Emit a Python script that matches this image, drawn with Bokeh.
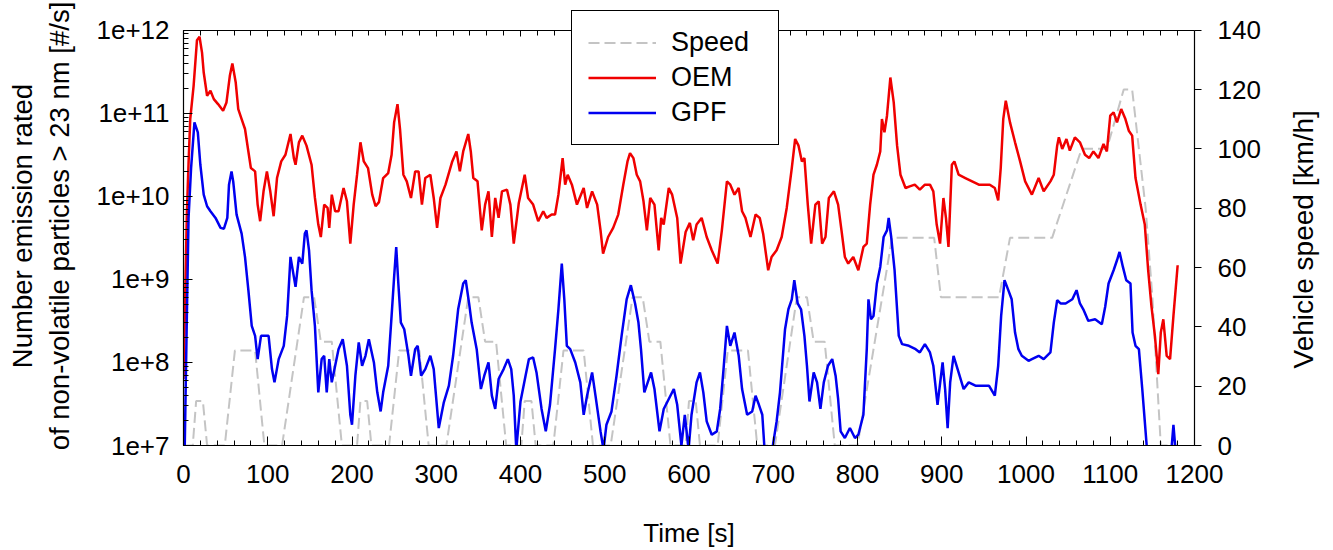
import math
from bokeh.plotting import figure
from bokeh.layouts import row
from bokeh.models import (Range1d, LinearAxis, LinearScale, CustomJSTickFormatter, SingleIntervalTicker,
                          Legend, LegendItem)
from bokeh.core.properties import value
from bokeh.embed import file_html
from bokeh.resources import INLINE

# ---------------- data ----------------
# Vehicle speed, NEDC breakpoints [s], [km/h]
speed_t = [0, 11, 15, 23, 28, 49, 61, 85, 96, 117, 143, 155, 163, 176, 188,
           195, 206, 210, 218, 223, 244, 256, 280, 291, 312, 338, 350, 358, 371, 383,
           390, 401, 405, 413, 418, 439, 451, 475, 486, 507, 533, 545, 553, 566, 578,
           585, 596, 600, 608, 613, 634, 646, 670, 681, 702, 728, 740, 748, 761, 773,
           780, 800, 841, 891, 899, 968, 981, 1031, 1066, 1096, 1116, 1126, 1142, 1150, 1160, 1180]
speed_v = [0, 0, 15, 15, 0, 0, 32, 32, 0, 0, 50, 50, 35, 35, 0,
           0, 0, 15, 15, 0, 0, 32, 32, 0, 0, 50, 50, 35, 35, 0,
           0, 0, 15, 15, 0, 0, 32, 32, 0, 0, 50, 50, 35, 35, 0,
           0, 0, 15, 15, 0, 0, 32, 32, 0, 0, 50, 50, 35, 35, 0,
           0, 0, 70, 70, 50, 50, 70, 70, 100, 100, 120, 120, 80, 50, 0, 0]

# OEM emission rate, log10 of [#/s]
oem_t = [0, 2, 4, 6, 8, 12, 16, 19, 22, 24, 28, 32, 36, 41, 47, 51, 55, 58, 62, 65,
         69, 73, 77, 80, 85, 88, 91, 95, 99, 103, 107, 111, 116, 121, 127, 131, 133, 137, 141, 146,
         152, 156, 160, 163, 167, 171, 173, 176, 180, 184, 190, 194, 198, 202, 206, 210, 214, 219, 224, 228,
         232, 237, 243, 247, 250, 254, 257, 261, 265, 270, 275, 279, 283, 287, 293, 297, 301, 305, 311, 319,
         324, 328, 332, 338, 341, 344, 349, 354, 358, 362, 366, 370, 374, 378, 384, 388, 392, 398, 405, 409,
         415, 421, 427, 431, 437, 441, 445, 450, 453, 456, 461, 467, 475, 479, 485, 491, 495, 498, 504, 510,
         516, 522, 527, 530, 534, 538, 542, 546, 550, 554, 559, 564, 567, 570, 576, 580, 586, 590, 596, 601,
         605, 609, 615, 621, 627, 634, 639, 645, 649, 654, 659, 663, 667, 673, 679, 684, 688, 694, 698, 704,
         710, 716, 722, 726, 730, 734, 737, 741, 745, 750, 754, 758, 762, 766, 772, 777, 781, 785, 789, 795,
         801, 807, 811, 815, 819, 823, 827, 829, 832, 835, 839, 843, 847, 851, 857, 862, 868, 874, 880, 886,
         890, 894, 898, 902, 905, 908, 912, 915, 920, 928, 936, 944, 951, 957, 963, 967, 970, 973, 976, 981,
         987, 993, 999, 1007, 1015, 1021, 1029, 1033, 1037, 1039, 1043, 1048, 1052, 1058, 1064, 1070, 1075, 1080, 1086, 1092,
         1096, 1100, 1104, 1108, 1113, 1118, 1122, 1126, 1130, 1136, 1141, 1145, 1149, 1153, 1157, 1160, 1163, 1167, 1171, 1175,
         1180]
oem_log = [7.8, 8.8, 9.8, 10.4, 10.93, 11.33, 11.88, 11.92, 11.73, 11.49, 11.21, 11.27, 11.17, 11.11, 11.03, 11.13, 11.45, 11.60, 11.37, 11.05,
           10.93, 10.81, 10.54, 10.34, 10.30, 9.90, 9.70, 10.06, 10.30, 10.06, 9.76, 10.22, 10.42, 10.50, 10.75, 10.46, 10.38, 10.65, 10.73, 10.61,
           10.38, 9.98, 9.66, 9.51, 9.90, 9.86, 9.62, 10.02, 9.82, 9.82, 10.10, 9.94, 9.43, 9.90, 10.26, 10.65, 10.42, 10.34, 10.02, 9.88,
           9.93, 10.22, 10.28, 10.50, 10.89, 11.11, 10.81, 10.26, 10.18, 9.98, 10.30, 10.30, 9.90, 10.22, 10.26, 9.98, 9.62, 9.98, 10.14, 10.42,
           10.54, 10.30, 10.54, 10.75, 10.54, 10.22, 10.18, 9.59, 9.90, 10.06, 9.51, 9.98, 9.74, 10.06, 10.08, 9.90, 9.43, 9.92, 10.26, 9.98,
           9.90, 9.70, 9.82, 9.74, 9.78, 9.78, 10.02, 10.46, 10.14, 10.26, 10.14, 9.90, 10.10, 9.86, 10.06, 9.90, 9.59, 9.31, 9.51, 9.62,
           9.78, 10.14, 10.42, 10.52, 10.46, 10.26, 10.18, 9.94, 9.59, 9.98, 9.90, 9.35, 9.74, 9.66, 10.10, 10.02, 9.74, 9.19, 9.57, 9.68,
           9.47, 9.66, 9.74, 9.51, 9.35, 9.19, 9.59, 10.18, 10.14, 10.02, 10.10, 9.82, 9.74, 9.51, 9.78, 9.74, 9.55, 9.11, 9.27, 9.35,
           9.51, 9.86, 10.34, 10.69, 10.61, 10.42, 10.46, 9.90, 9.43, 9.90, 9.94, 9.43, 9.51, 9.98, 10.06, 9.90, 9.59, 9.27, 9.19, 9.27,
           9.11, 9.39, 9.43, 9.90, 10.26, 10.38, 10.54, 10.93, 10.77, 10.97, 11.43, 11.13, 10.61, 10.26, 10.10, 10.12, 10.14, 10.08, 10.14, 10.14,
           10.06, 9.66, 9.43, 9.98, 9.74, 9.39, 10.38, 10.42, 10.26, 10.22, 10.18, 10.14, 10.14, 10.14, 10.10, 9.95, 10.34, 10.93, 11.15, 10.89,
           10.65, 10.42, 10.18, 10.02, 10.22, 10.06, 10.18, 10.26, 10.61, 10.71, 10.57, 10.69, 10.55, 10.71, 10.65, 10.50, 10.46, 10.54, 10.46, 10.63,
           10.54, 10.97, 11.01, 10.89, 11.05, 10.93, 10.79, 10.73, 10.22, 9.90, 9.66, 9.11, 8.67, 8.32, 7.86, 8.36, 8.52, 8.08, 8.04, 8.56,
           9.17]

# GPF emission rate, log10 of [#/s] (values below 7 fall off the axis)
gpf_t = [0, 1.5, 4, 6, 9, 13, 17, 20, 24, 28, 32, 38, 44, 48, 52, 54, 57, 59, 63, 69,
         73, 77, 81, 85, 88, 92, 97, 101, 105, 108, 113, 119, 123, 127, 129, 133, 137, 141, 144, 146,
         149, 152, 156, 160, 164, 167, 170, 173, 176, 180, 184, 189, 194, 198, 200, 204, 208, 212, 216, 220,
         226, 230, 234, 237, 243, 247, 250, 252.5, 255, 258, 262, 267, 270, 275, 278, 282, 287, 293, 297, 303,
         309, 315, 320, 326, 332, 335, 339, 342, 348, 353, 357, 362, 366, 370, 374, 380, 385, 389, 392, 395,
         400, 406, 410, 415, 419, 425, 430, 435, 441, 445, 449, 452, 455, 459, 465, 471, 475, 479, 485, 489,
         495, 498.5, 502, 508, 514, 520, 526, 531, 536, 540, 543, 547, 551, 555, 559, 565, 570, 576, 582, 586,
         591, 595, 599.5, 603, 609, 613, 617, 621, 627, 633, 637, 641, 645, 649, 654, 659, 663, 669, 675, 679,
         683, 687, 690, 698, 704, 708, 714, 718, 722, 725, 729, 733, 737, 740, 743, 748, 752, 756, 760, 765,
         770, 774, 777, 780, 785, 791, 797, 801, 807, 811, 813, 816, 819, 823, 827, 831, 835, 837, 840, 844,
         849, 853, 861, 869, 874, 880, 886, 890, 895, 901, 904, 907, 910, 914, 920, 926, 932, 940, 948, 956,
         963, 967, 970.5, 974.5, 979, 983, 987, 991, 995, 1003, 1007, 1015, 1021, 1029, 1033, 1037, 1041, 1047, 1055, 1060,
         1064, 1068, 1074, 1082, 1090, 1094, 1098, 1104, 1108, 1111, 1115, 1119, 1124, 1126.5, 1130, 1134, 1138, 1141, 1144, 1150,
         1170, 1173, 1175, 1177, 1179]
gpf_log = [6.5, 7.0, 8.56, 9.74, 10.34, 10.89, 10.77, 10.38, 10.02, 9.88, 9.82, 9.74, 9.62, 9.61, 9.74, 10.14, 10.30, 10.18, 9.78, 9.55,
           9.27, 8.87, 8.44, 8.32, 8.04, 8.32, 8.32, 8.32, 7.92, 7.76, 8.04, 8.20, 8.56, 9.27, 9.15, 8.91, 9.27, 9.19, 9.55, 9.59,
           9.35, 8.87, 8.44, 7.64, 8.04, 8.08, 7.64, 8.04, 7.76, 7.96, 8.16, 8.28, 7.96, 7.37, 7.25, 7.84, 8.24, 7.96, 8.08, 8.28,
           8.00, 7.64, 7.41, 7.64, 7.96, 8.56, 9.03, 9.39, 8.95, 8.48, 8.40, 8.08, 7.84, 8.16, 8.20, 7.84, 7.92, 8.08, 7.92, 7.21,
           7.52, 7.72, 8.08, 8.64, 8.95, 8.99, 8.71, 8.48, 8.16, 7.68, 7.84, 8.00, 7.60, 7.44, 7.80, 7.92, 8.04, 7.92, 7.60, 6.95,
           7.53, 7.84, 8.04, 8.06, 7.88, 7.44, 7.17, 7.49, 8.16, 8.64, 9.19, 8.76, 8.20, 8.16, 8.00, 7.76, 7.37, 7.60, 7.88, 7.60,
           7.17, 6.95, 7.25, 7.41, 7.84, 8.32, 8.76, 8.93, 8.71, 8.48, 8.16, 7.64, 7.76, 7.88, 7.68, 7.17, 7.44, 7.56, 7.68, 7.49,
           7.0, 7.37, 6.95, 7.37, 7.76, 7.88, 7.64, 7.29, 7.13, 7.17, 7.44, 7.92, 8.44, 8.20, 8.36, 8.08, 7.68, 7.37, 7.41, 7.60,
           7.49, 7.37, 6.9, 6.9, 7.29, 7.64, 8.40, 8.64, 8.76, 8.99, 8.71, 8.64, 8.32, 7.96, 7.53, 7.88, 7.76, 7.44, 7.76, 7.96,
           8.04, 7.84, 7.56, 7.17, 7.09, 7.21, 7.09, 7.13, 7.37, 8.16, 8.76, 8.52, 8.56, 8.95, 9.15, 9.51, 9.59, 9.74, 9.51, 9.11,
           8.32, 8.22, 8.20, 8.16, 8.12, 8.22, 8.12, 7.96, 7.49, 8.00, 7.68, 7.21, 7.76, 8.08, 7.88, 7.68, 7.76, 7.72, 7.72, 7.72,
           7.60, 7.96, 8.56, 8.99, 8.87, 8.76, 8.36, 8.16, 8.08, 8.02, 8.04, 8.08, 8.04, 8.12, 8.48, 8.75, 8.71, 8.71, 8.76, 8.87,
           8.71, 8.64, 8.50, 8.52, 8.46, 8.67, 8.95, 9.11, 9.23, 9.33, 9.15, 8.99, 8.95, 8.36, 8.20, 8.16, 7.68, 7.29, 6.9, 6.0,
           6.0, 7.0, 7.25, 7.0, 6.0]

x_ticks_interval = 100
speed_ticks_interval = 20
emis_bounds = (1e7, 1e12)
speed_bounds = (0, 140)
speed_title = "Vehicle speed [km/h]"

# ---------------- figure ----------------
FONT = "Liberation Sans"
FS = "26px"
FS_TITLE = "27.5px"

oem_v = [10 ** v for v in oem_log]
gpf_v = [10 ** v for v in gpf_log]

# The frame reaches 24 px above the top axis line, so that the legend box
# can stick out above the top axis line as in the reference.
EXTRA_PX = 24
AX_PX = 421  # pixel height between 1e7 and 1e12
FRAME_TOP = 30 - EXTRA_PX
FRAME_BOTTOM = 451
y_top = 10 ** (12 + EXTRA_PX * 5 / AX_PX)
speed_top = 140 + EXTRA_PX * 140 / AX_PX

MAIN_W = 1280
p = figure(width=MAIN_W, height=550, x_range=Range1d(0, 1200), y_range=Range1d(1e7, y_top),
           y_axis_type="log", output_backend="svg", toolbar_location=None,
           min_border_left=183, min_border_right=MAIN_W - 1194, min_border_top=FRAME_TOP,
           min_border_bottom=550 - FRAME_BOTTOM)
p.extra_y_ranges = {"speed": Range1d(0, speed_top)}
p.extra_y_scales = {"speed": LinearScale()}
p.grid.visible = False
p.outline_line_color = None
p.background_fill_color = "white"
p.border_fill_color = "white"

r_speed = p.line(speed_t, speed_v, y_range_name="speed", line_color="#c4c4c4",
                 line_width=2, line_dash="11 5")
r_oem = p.line(oem_t, oem_v, line_color="#f00000", line_width=2.5)
r_gpf = p.line(gpf_t, gpf_v, line_color="#0000f0", line_width=2.5)

def style_axis(ax):
    ax.axis_line_color = "black"
    ax.axis_line_width = 1.2
    ax.major_tick_line_color = "black"
    ax.minor_tick_line_color = "black"
    ax.major_label_text_font = FONT
    ax.major_label_text_font_size = FS
    ax.major_label_text_color = "black"
    ax.axis_label_text_font = FONT
    ax.axis_label_text_font_size = FS
    ax.axis_label_text_font_style = "normal"
    ax.axis_label_text_color = "black"

# bottom x axis
xa = p.xaxis[0]
xa.ticker = SingleIntervalTicker(interval=x_ticks_interval, num_minor_ticks=5)
xa.axis_label = "Time [s]"
style_axis(xa)
xa.major_tick_in = 9
xa.major_tick_out = 0
xa.minor_tick_in = 5
xa.minor_tick_out = 0
xa.major_label_standoff = 19
xa.axis_label_standoff = 32

# top mirror axis, placed on the 1e12 level
ta = LinearAxis(ticker=SingleIntervalTicker(interval=x_ticks_interval, num_minor_ticks=5),
                formatter=CustomJSTickFormatter(code="return ''"))
style_axis(ta)
ta.fixed_location = emis_bounds[1]
ta.major_tick_in = 6
ta.major_tick_out = 0
ta.minor_tick_in = 5
ta.minor_tick_out = 0
ta.major_label_text_font_size = "1px"
ta.major_label_standoff = 0
p.add_layout(ta, "above")

# left log axis
ya = p.yaxis[0]
ya.bounds = emis_bounds
ya.formatter = CustomJSTickFormatter(code="return '1e+' + Math.round(Math.log10(tick));")
ya.axis_label = "Number emission rated\nof non-volatile particles > 23 nm [#/s]"
style_axis(ya)
ya.axis_label_text_font_size = FS_TITLE
ya.major_tick_in = 9
ya.major_tick_out = 0
ya.minor_tick_in = 5
ya.minor_tick_out = 0
ya.major_label_standoff = 14
ya.axis_label_standoff = 18

# right speed axis (ticks and numbers)
ra = LinearAxis(y_range_name="speed",
                ticker=SingleIntervalTicker(interval=speed_ticks_interval, num_minor_ticks=0))
style_axis(ra)
ra.bounds = speed_bounds
ra.major_tick_in = 0
ra.major_tick_out = 7
ra.minor_tick_in = 0
ra.minor_tick_out = 0
ra.major_label_standoff = 16
p.add_layout(ra, "right")

legend = Legend(items=[LegendItem(label="Speed", renderers=[r_speed]),
                       LegendItem(label="OEM", renderers=[r_oem]),
                       LegendItem(label="GPF", renderers=[r_gpf])],
                location=(388, 300), orientation="vertical")
legend.border_line_color = "black"
legend.border_line_width = 1.5
legend.border_line_alpha = 1
legend.background_fill_color = "white"
legend.background_fill_alpha = 1
legend.padding = 16
legend.spacing = 4
legend.margin = 0
legend.glyph_width = 68
legend.glyph_height = 31
legend.label_height = 31
legend.label_width = 91
legend.label_standoff = 15
legend.label_text_font = FONT
legend.label_text_font_size = "27px"
legend.label_text_color = "black"
p.add_layout(legend, "center")

# narrow strip on the right carrying the speed-axis title, reading bottom-to-top.
# Its frame is aligned with the main frame by the row layout, so its y range
# is given in pixels measured up from the main frame's bottom.
SIDE_W = 1333 - MAIN_W
p2 = figure(width=SIDE_W, height=550, x_range=Range1d(0, SIDE_W),
            y_range=Range1d(0, FRAME_BOTTOM - FRAME_TOP),
            output_backend="svg", toolbar_location=None,
            x_axis_location=None, y_axis_location=None,
            min_border_left=0, min_border_right=0, min_border_top=FRAME_TOP,
            min_border_bottom=550 - FRAME_BOTTOM)
p2.grid.visible = False
p2.outline_line_color = None
p2.background_fill_color = "white"
p2.border_fill_color = "white"
p2.text(x=[23], y=[FRAME_BOTTOM - 242], text=[speed_title], angle=math.pi / 2,
        text_align="center", text_baseline="middle",
        text_font=value(FONT), text_font_size="28px", text_color="black")

layout = row(p, p2, spacing=0)
open("out.html", "w").write(file_html(layout, INLINE))
